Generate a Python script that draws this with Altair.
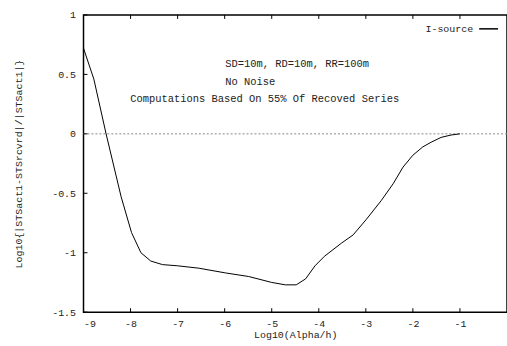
import altair as alt
import pandas as pd

# Curve data
alpha = [-9.0, -8.78, -8.52, -8.2, -7.98, -7.78, -7.57, -7.32, -7.0, -6.55, -5.98,
         -5.49, -5.0, -4.71, -4.48, -4.28, -4.08, -3.88, -3.52, -3.27, -2.99, -2.67,
         -2.42, -2.21, -2.0, -1.79, -1.61, -1.40, -1.19, -1.0]
err = [0.72, 0.46, 0.0, -0.53, -0.83, -1.0, -1.07, -1.10, -1.11, -1.13, -1.17,
       -1.20, -1.25, -1.27, -1.27, -1.22, -1.11, -1.03, -0.92, -0.85, -0.72, -0.56,
       -0.42, -0.28, -0.18, -0.11, -0.07, -0.03, -0.01, 0.0]

x_ticks = [-9, -8, -7, -6, -5, -4, -3, -2, -1]
y_ticks = [-1.5, -1.0, -0.5, 0.0, 0.5, 1.0]
notes = ["SD=10m, RD=10m, RR=100m", "No Noise", "Computations Based On 55% Of Recoved Series"]
series_name = "I-source"

FONT = "Liberation Mono"
W, H = 426, 299

df = pd.DataFrame({"a": alpha, "e": err})
xs = alt.Scale(domain=[-9, 0], nice=False, zero=False)
ys = alt.Scale(domain=[-1.5, 1], nice=False, zero=False)

xaxis = alt.Axis(values=x_ticks, tickSize=0, labelPadding=6, domain=False, grid=False,
                 labelExpr="toString(datum.value)", labelFont=FONT, labelFontSize=10,
                 labelColor="#222", titleFont=FONT, titleFontSize=10, titleFontWeight="normal",
                 titlePadding=1, titleColor="#222")
yaxis = alt.Axis(values=y_ticks, tickSize=0, labelPadding=8, domain=False, grid=False,
                 labelExpr="toString(datum.value)", labelFont=FONT, labelFontSize=10,
                 labelColor="#222", titleFont=FONT, titleFontSize=10, titleFontWeight="normal",
                 titlePadding=28, titleColor="#222")

line = alt.Chart(df).mark_line(color="black", strokeWidth=1).encode(
    x=alt.X("a:Q", scale=xs, axis=xaxis, title="Log10(Alpha/h)"),
    y=alt.Y("e:Q", scale=ys, axis=yaxis, title="Log10{|STSact1-STSrcvrd|/|STSact1|}"),
)

zero = alt.Chart(pd.DataFrame({"z": [0.0]})).mark_rule(
    color="#888", strokeDash=[2, 2], strokeWidth=1
).encode(y=alt.Y("z:Q", scale=ys), x=alt.value(0), x2=alt.value(W))

xt = pd.DataFrame({"t": x_ticks})
yt = pd.DataFrame({"t": y_ticks})
tick_style = dict(color="black", strokeWidth=1)
xt_bot = alt.Chart(xt).mark_rule(**tick_style).encode(
    x=alt.X("t:Q", scale=xs), y=alt.value(H), y2=alt.value(H - 4))
xt_top = alt.Chart(xt).mark_rule(**tick_style).encode(
    x=alt.X("t:Q", scale=xs), y=alt.value(0), y2=alt.value(4))
yt_left = alt.Chart(yt).mark_rule(**tick_style).encode(
    y=alt.Y("t:Q", scale=ys), x=alt.value(0), x2=alt.value(4))

notes_df = pd.DataFrame({"txt": notes})
n1 = alt.Chart(pd.DataFrame({"txt": [notes[0]]})).mark_text(
    font=FONT, fontSize=10.5, align="left", baseline="middle", color="#222"
).encode(text="txt:N", x=alt.value(142.5), y=alt.value(49))
n2 = alt.Chart(pd.DataFrame({"txt": [notes[1]]})).mark_text(
    font=FONT, fontSize=10.5, align="left", baseline="middle", color="#222"
).encode(text="txt:N", x=alt.value(142.5), y=alt.value(67))
n3 = alt.Chart(pd.DataFrame({"txt": [notes[2]]})).mark_text(
    font=FONT, fontSize=10.5, align="left", baseline="middle", color="#222"
).encode(text="txt:N", x=alt.value(47), y=alt.value(85))

leg_text = alt.Chart(pd.DataFrame({"txt": [series_name]})).mark_text(
    font=FONT, fontSize=10, align="right", baseline="middle", color="#222"
).encode(text="txt:N", x=alt.value(392), y=alt.value(14))
leg_line = alt.Chart(pd.DataFrame({"txt": [series_name]})).mark_rule(
    color="black", strokeWidth=1.5
).encode(x=alt.value(398), x2=alt.value(417), y=alt.value(14))

chart = alt.layer(zero, xt_bot, xt_top, yt_left, line, n1, n2, n3, leg_text, leg_line).properties(
    width=W, height=H,
    autosize=alt.AutoSizeParams(type="none"),
    padding={"left": 84, "top": 14, "right": 0, "bottom": 33},
    background="white",
).configure_view(stroke="black", strokeWidth=1.5)

chart.save("out.html", embed_options={"renderer": "svg", "actions": False})
